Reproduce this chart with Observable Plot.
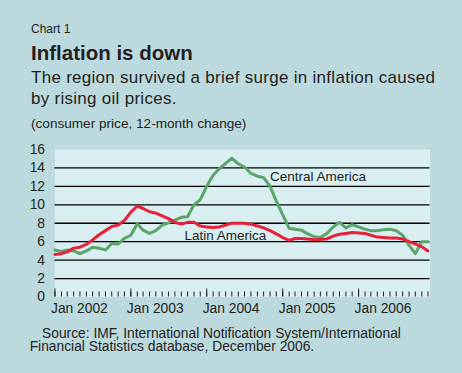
<!DOCTYPE html>
<html><head><meta charset="utf-8">
<script src="https://cdn.jsdelivr.net/npm/d3@7"></script>
<script src="https://cdn.jsdelivr.net/npm/@observablehq/plot@0.6"></script>
<style>
body{margin:0;background:#BCD9DE;}
#c{position:relative;width:462px;height:373px;background:#BCD9DE;font-family:"Liberation Sans",Arial,sans-serif;color:#231f20;overflow:hidden}
.t{position:absolute;left:31px;line-height:1;white-space:nowrap}
#plot{position:absolute;left:0;top:140px}
</style></head><body>
<div id="c">
  <div class="t" style="top:22.5px;font-size:12px">Chart 1</div>
  <div class="t" style="top:43px;font-size:20.5px;font-weight:bold">Inflation is down</div>
  <div class="t" style="top:68.3px;font-size:17px;line-height:20.7px;letter-spacing:0.28px">The region survived a brief surge in inflation caused<br>by rising oil prices.</div>
  <div class="t" style="top:117.3px;font-size:13.6px">(consumer price, 12-month change)</div>
  <div id="plot"></div>
  <div class="t" style="top:326.6px;left:42px;font-size:13.8px;line-height:13px">Source: IMF, International Notification System/International</div>
  <div class="t" style="top:340.3px;left:29.7px;font-size:13.8px;line-height:13px">Financial Statistics database, December 2006.</div>
</div>
<script>
// monthly observations, Jan 2002 .. Dec 2006
const startMonth = new Date(Date.UTC(2002, 0, 1));
const endMonth = new Date(Date.UTC(2006, 11, 1));
const latinAmerica = [
  4.6, 4.7, 4.9, 5.3, 5.4, 5.7, 6.2, 6.75, 7.2, 7.65, 7.8, 8.3,
  9.2, 9.85, 9.6, 9.25, 9.1, 8.8, 8.5, 8.1, 7.9, 8.1, 8.1, 7.7,
  7.6, 7.55, 7.6, 7.8, 8.0, 8.0, 8.0, 7.9, 7.7, 7.5, 7.2, 6.85,
  6.45, 6.15, 6.35, 6.35, 6.3, 6.2, 6.25, 6.3, 6.6, 6.8, 6.9, 7.0,
  6.95, 6.9, 6.7, 6.5, 6.45, 6.4, 6.4, 6.3, 6.0, 5.75, 5.45, 5.0
];
const centralAmerica = [
  5.1, 4.95, 5.1, 5.0, 4.7, 5.0, 5.4, 5.3, 5.1, 5.8, 5.75, 6.35,
  6.7, 7.95, 7.25, 6.9, 7.2, 7.8, 8.05, 8.35, 8.65, 8.7, 10.0, 10.55,
  12.0, 13.2, 13.9, 14.5, 15.05, 14.45, 14.1, 13.4, 13.1, 12.95, 12.0, 10.4,
  8.9, 7.45, 7.35, 7.25, 6.85, 6.55, 6.45, 6.9, 7.6, 8.1, 7.5, 7.85,
  7.6, 7.35, 7.2, 7.2, 7.3, 7.35, 7.2, 6.7, 5.6, 4.7, 6.0, 6.0
];
const seriesNames = ["Latin America", "Central America"];
const seriesColors = ["#E8213A", "#5BA56B"];
const yTicks = [0, 2, 4, 6, 8, 10, 12, 14, 16];
const gridLines = [2, 4, 6, 8, 10, 12, 14];
const labelNames = ["Latin America", "Central America"];
const labelDates = [new Date(Date.UTC(2003, 8, 16)), new Date(Date.UTC(2004, 10, 1))];
const labelValues = [6.6, 13.1];

const months = d3.utcMonth.range(startMonth, d3.utcMonth.offset(endMonth, 1));
const rows = [];
months.forEach((d, i) => {
  rows.push({date: d, value: centralAmerica[i], series: "Central America"});
});
months.forEach((d, i) => {
  rows.push({date: d, value: latinAmerica[i], series: "Latin America"});
});
const labels = labelNames.map((n, i) => ({name: n, date: labelDates[i], value: labelValues[i]}));

const chart = Plot.plot({
  width: 462, height: 177,
  marginLeft: 54.5, marginRight: 32.5, marginTop: 9, marginBottom: 20.5,
  style: {background: "transparent", fontFamily: '"Liberation Sans", Arial, sans-serif', fontSize: "13.8px", color: "#231f20", overflow: "visible"},
  x: {type: "utc", domain: [startMonth, endMonth], insetRight: 2},
  y: {domain: [0, 16]},
  color: {domain: seriesNames, range: seriesColors},
  marks: [
    Plot.frame({fill: "#D9EEF1", stroke: null}),
    Plot.ruleY(gridLines, {stroke: "#000", strokeWidth: 1.3}),
    Plot.axisX({ticks: d3.utcMonth.every(1), tickSize: 5, dy: -5, text: null, stroke: "#231f20", label: null}),
    Plot.axisX({ticks: d3.utcYear.every(1), tickSize: 8, dy: -8, text: null, stroke: "#231f20", label: null}),
    Plot.axisX({ticks: d3.utcYear.every(1), tickSize: 0, tickPadding: 6, tickFormat: d3.utcFormat("Jan %Y"), textAnchor: "start", dx: -4, label: null, fill: "#231f20", fontSize: 13.8}),
    Plot.axisY({ticks: yTicks, tickSize: 0, tickPadding: 10, label: null, fill: "#231f20", fontSize: 13.8}),
    Plot.line(rows, {x: "date", y: "value", z: "series", stroke: "series", strokeWidth: 3}),
    Plot.text(labels, {x: "date", y: "value", text: "name", textAnchor: "start", fill: "#231f20", fontSize: 13.5})
  ]
});
document.getElementById("plot").appendChild(chart);
</script>
</body></html>
